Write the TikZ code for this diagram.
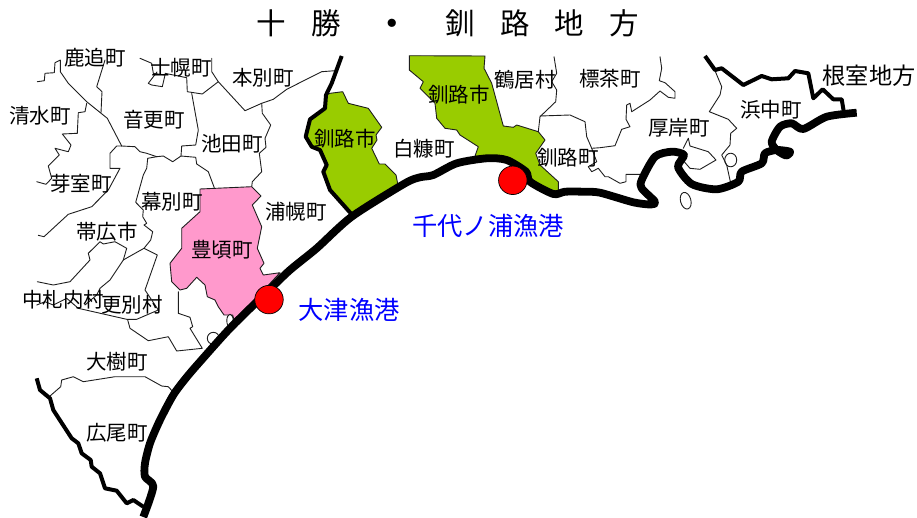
\documentclass[tikz,border=0pt]{standalone}
\usepackage{fontspec}
\setmainfont{Noto Sans CJK JP}
\definecolor{pinkarea}{RGB}{255,153,204}
\definecolor{greenarea}{RGB}{153,204,0}
\definecolor{bluetext}{RGB}{0,0,255}
\definecolor{thinline}{RGB}{30,30,30}
\tikzset{
  bnd/.style={draw=thinline,line width=0.9pt,line join=round,line cap=round},
  thick border/.style={draw=black,line width=4pt,line join=round,line cap=butt},
  coast/.style={draw=black,line width=7.8pt,line join=round,line cap=butt},
  pinkzone/.style={fill=pinkarea,draw=thinline,line width=0.9pt,line join=round},
  greenzone/.style={fill=greenarea,draw=thinline,line width=0.9pt,line join=round},
  port/.style={circle,fill=red,draw=black,line width=0.7pt,minimum size=28.5pt,inner sep=0pt},
  town/.style={inner sep=0pt,font=\fontsize{20.5}{20.5}\selectfont,text=black},
  region/.style={inner sep=0pt,font=\fontsize{23.2}{23.2}\selectfont,text=black},
  portname/.style={inner sep=0pt,font=\fontsize{25.3}{25.3}\selectfont,text=bluetext},
  headline/.style={inner sep=0pt,font=\fontsize{29.5}{29.5}\selectfont,text=black},
}
\begin{document}
\begin{tikzpicture}[x=1pt,y=-1pt]
\useasboundingbox (0,0) rectangle (917,517);
% coloured areas
\path[pinkzone] (200,189) -- (251.7,186.7) -- (261,196) -- (252.3,205) -- (261.7,226.7) -- (257.3,248.3) -- (264,263.3) -- (260,268.3) -- (263.3,275) -- (280,272.7) -- (262,292) -- (234,320) -- (232.7,315) -- (228.3,315) -- (224,315) -- (218.3,306.7) -- (215,300) -- (207.3,296.7) -- (205,285) -- (196.7,277.3) -- (186.7,288.3) -- (180,290) -- (171.7,281.7) -- (170,263.3) -- (181.7,248.3) -- (181.7,228.3) -- (200,211.7) -- cycle;
\path[greenzone] (330,93.3) -- (342.7,91.7) -- (348.3,103.3) -- (368.3,108.3) -- (381.7,127.3) -- (376,135) -- (377,140) -- (371.7,148.3) -- (379.3,164) -- (385,164) -- (396,175) -- (398.3,186.7) -- (352.3,215) -- (330,190) -- (323.3,171.7) -- (326.7,165) -- (320,150) -- (311.7,146.7) -- (305.7,136.7) -- (310,119.3) -- (325,108.3) -- (326,95) -- cycle;
\path[greenzone] (409.3,55.7) -- (485,56) -- (484,68.3) -- (491.7,83.3) -- (503.3,126) -- (513.3,127.3) -- (516.7,125) -- (538.3,131.7) -- (545,140) -- (535.7,153.3) -- (540,165) -- (558.3,181.7) -- (558.3,192.7) -- (530,181.7) -- (526,171.7) -- (506.7,160) -- (486.7,158.3) -- (475,156) -- (478.3,146.7) -- (460,135) -- (456.7,130) -- (445,128.3) -- (436.7,118.3) -- (435,103.3) -- (420,88.3) -- (423.3,81.7) -- (409.3,70) -- cycle;
% thin boundaries, west
\draw[bnd] (37.3,81.7) -- (44.3,80.7) -- (45,73.3) -- (54.3,72.7) -- (55,62.7) -- (60.3,60) -- (60.3,71.7) -- (68.3,83.3) -- (86.7,101.7) -- (107.3,118.3) -- (121.7,146);
\draw[bnd] (105,60) -- (96.7,86.7) -- (102,91.7) -- (101,112.7);
\draw[bnd] (86.7,103.3) -- (85,111.7) -- (78.3,112.7) -- (77.3,133.3) -- (62.3,134) -- (71,145) -- (68.3,151.7) -- (55,148.3) -- (59.3,155) -- (48.3,166) -- (51.7,178.3) -- (46,184.3) -- (36.7,181.7);
\draw[bnd] (121.7,146) -- (135,146.7) -- (140,151.7) -- (146.7,153.3) -- (156.7,156.7) -- (163.3,156) -- (172.7,161.7) -- (181,156) -- (195.7,157.3) -- (196.7,164) -- (208.3,171.7) -- (214.3,187.7);
\draw[bnd] (121.7,146) -- (116.7,146) -- (110,153.3) -- (110,168.3) -- (120,168.3) -- (108.3,190) -- (91.7,206.7) -- (68.3,214.3) -- (44,236.7) -- (38.3,235.3);
\draw[bnd] (156.7,156.7) -- (147.7,158.3) -- (146.7,168.3) -- (143.3,175) -- (135.7,202.3) -- (143.3,210) -- (142.7,216.7) -- (146.7,223.3) -- (144,225) -- (152.7,231.7) -- (150.7,240) -- (144,248.3) -- (157.3,255) -- (145,290) -- (158.3,310) -- (136.7,319.3) -- (126.7,319.3) -- (78.3,308.3) -- (66.7,298.3) -- (53.3,305) -- (45,301.7) -- (36.7,305);
\draw[bnd] (127.7,320) -- (130,328.3) -- (148.3,340.7) -- (168.3,336.7) -- (176.7,351) -- (202.3,348.3) -- (190,328.3) -- (192.7,326.7) -- (190,317.3) -- (178.3,313.3) -- (178.3,291.7);
\draw[bnd] (37.3,281.7) -- (53.3,285) -- (70,281.7) -- (90,260) -- (88.3,253.3) -- (100,241.7) -- (103.3,244) -- (115,241.7) -- (126.7,248.3) -- (123.3,260) -- (110,280) -- (100,288.3) -- (96.7,295) -- (85,305);
\draw[bnd] (123.3,260) -- (126.7,258) -- (144,248.3);
\draw[bnd] (140,58.3) -- (151.7,63.3) -- (153.3,73.3) -- (165,75) -- (162.3,86.7) -- (151.7,85) -- (148.3,83.3) -- (157,72);
\draw[bnd] (165,73.3) -- (186.7,77.7) -- (187.3,91.7) -- (202.3,94) -- (218.3,81.7) -- (211.7,71.7) -- (211.7,58.3);
\draw[bnd] (218.3,81.7) -- (245,110.7) -- (261.7,103.3) -- (273.3,99.3) -- (286.7,89.3) -- (321.7,71.7) -- (335,70.7);
\draw[bnd] (261.7,103.3) -- (262.3,113.3) -- (270.7,125) -- (265,138.3) -- (266,147.3) -- (259.3,153.3) -- (261.7,171.7) -- (252.3,181.7) -- (251.7,186.7);
\draw[bnd] (191.7,93.3) -- (198.3,130) -- (195.7,145) -- (181.7,146) -- (181,156);
\draw[bnd] (50,396) -- (60.7,386.7) -- (61.7,380) -- (73.3,376.7) -- (83.3,381.7) -- (115,376.7) -- (145,376.7) -- (161.7,386) -- (168.3,386.7) -- (174.3,393.3);
\draw[bnd,fill=white] (230,320.7) ellipse [x radius=3.2,y radius=6.5];
\draw[bnd,fill=white] (213.3,338.3) circle [radius=6];
% thin boundaries, east
\draw[bnd] (554,56.7) -- (556.7,73.3) -- (551.7,81.7) -- (556.7,90) -- (555.7,101.7) -- (540,116.7) -- (538.3,131.7);
\draw[bnd] (540,116) -- (570,115) -- (585,121.7) -- (586.7,136.7) -- (591.7,148.3) -- (600,147.7) -- (615,145.7) -- (621.7,129.3) -- (630,126.7) -- (626,119.3) -- (626.7,105) -- (630,103.3) -- (631.7,111.7) -- (650,100) -- (660,91) -- (668.3,97.3) -- (675,98.3) -- (675,91.7) -- (665,82.7) -- (659.3,80.7) -- (661.7,68.3) -- (660,56.7);
\draw[bnd] (591.7,148.3) -- (596.7,161.7) -- (588.3,166.7) -- (591.7,171.7) -- (598.3,168.3) -- (605,176.7) -- (608.3,176.7) -- (620,183.3) -- (626,181.7) -- (626,174.3) -- (640,174.3);
\draw[bnd] (683.3,148.3) -- (688.3,138.3) -- (690,146) -- (708.3,151.7) -- (716,160) -- (700,169.3) -- (690,168.3) -- (682.7,160);
\draw[bnd] (715,70.7) -- (721.7,86.7) -- (720,95) -- (709.3,111.7) -- (728.3,119.3) -- (736.7,128.3) -- (730.7,133.3) -- (730,145) -- (721.7,155) -- (726.7,165) -- (730.7,183.3);
\draw[bnd] (730.7,160) ellipse [x radius=6,y radius=6.8];
\draw[bnd,rotate around={15:(685.7,200.7)}] (685.7,200.7) ellipse [x radius=5.2,y radius=8.5];
% thick borders
\draw[thick border] (36.7,378.3) -- (40,390) -- (50,398.3) -- (53.3,410) -- (71.7,438.3) -- (78.3,443.3) -- (81.7,453.3) -- (90.7,460) -- (91.7,466.7) -- (100,473.3) -- (105,488.3) -- (116.7,490.7) -- (126.7,503.3) -- (133.3,500) -- (143.3,506.7);
\draw[thick border] (341.7,56) -- (331.7,83.3) -- (326,95) -- (325,108.3) -- (310,119.3) -- (305.7,136.7) -- (311.7,146.7) -- (320,150) -- (326.7,165) -- (323.3,171.7) -- (330,190) -- (352.3,215);
\draw[thick border] (705,56) -- (715,70) -- (721.7,68.3) -- (743.3,85) -- (761.7,76) -- (771.7,79.3) -- (788.3,78.3) -- (795,71) -- (808.3,73.3) -- (813.3,98.3) -- (822.7,89.3) -- (833.3,99.3) -- (841.7,99.3) -- (844.3,115);
% coast
\draw[coast] plot[smooth,tension=0.45] coordinates {(143.3,517) (153.3,486.7) (145,476.7) (145,463.3) (150,443.3) (160,420) (173.3,395) (186,378) (200,361.7) (230,328.3) (266,293) (290,270) (316.7,248.3) (351.7,216.7) (405,183.3) (420,177.3) (433.3,175) (456.7,163.3) (486.7,158.3) (506.7,160) (526,171.7) (530,181.7) (553.3,194) (565,191.7) (583.3,191.7) (600,192.7) (633.3,202.3) (651,204.5) (655,201.7) (641.7,188.3) (641.7,180) (655,156.7) (671.7,151.7) (684,155) (678,167) (691.7,184) (716.7,189.3) (738.3,181.7) (741.7,171.7) (761.7,163.3) (765,153.3) (776.7,150) (790,151.7) (786,155.5) (776.7,150) (771.7,141.7) (780,126.7) (791.7,123.3) (803.3,129) (826.7,116.7) (856.7,112.7)};
% ports
\node[port] (otsu) at (269,299.6) {};
\node[port] (chiyo) at (512.8,180.3) {};
% texts
\node[headline] (title) at (448,23) {十\hspace{25pt}勝\hspace{37pt}\textbf{・}\hspace{38pt}釧\hspace{26pt}路\hspace{24pt}地\hspace{26pt}方};
\node[town] (t1) at (95,58) {鹿追町};
\node[town] (t2) at (181,68) {士幌町};
\node[town] (t3) at (263,78) {本別町};
\node[town] (t4) at (40,116) {清水町};
\node[town] (t5) at (154,120) {音更町};
\node[town] (t6) at (232,144) {池田町};
\node[town] (t7) at (81,184) {芽室町};
\node[town] (t8) at (172,202) {幕別町};
\node[town] (t9) at (107,232) {帯広市};
\node[town] (t10) at (222,250) {豊頃町};
\node[town] (t11) at (296,212) {浦幌町};
\node[town] (t12) at (63,300) {中札内村};
\node[town] (t13) at (132,305) {更別村};
\node[town] (t14) at (117,362) {大樹町};
\node[town] (t15) at (117,433) {広尾町};
\node[town] (t16) at (345,139) {釧路市};
\node[town] (t17) at (424,149) {白糠町};
\node[town] (t18) at (459,95) {釧路市};
\node[town] (t19) at (525,80) {鶴居村};
\node[town] (t20) at (610,79) {標茶町};
\node[town] (t21) at (568,158) {釧路町};
\node[town] (t22) at (679,128) {厚岸町};
\node[town] (t23) at (771,110) {浜中町};
\node[region] (t24) at (869,76) {根室地方};
\node[portname] (p1) at (488,226) {千代ノ浦漁港};
\node[portname] (p2) at (349,310) {大津漁港};
\end{tikzpicture}
\end{document}
